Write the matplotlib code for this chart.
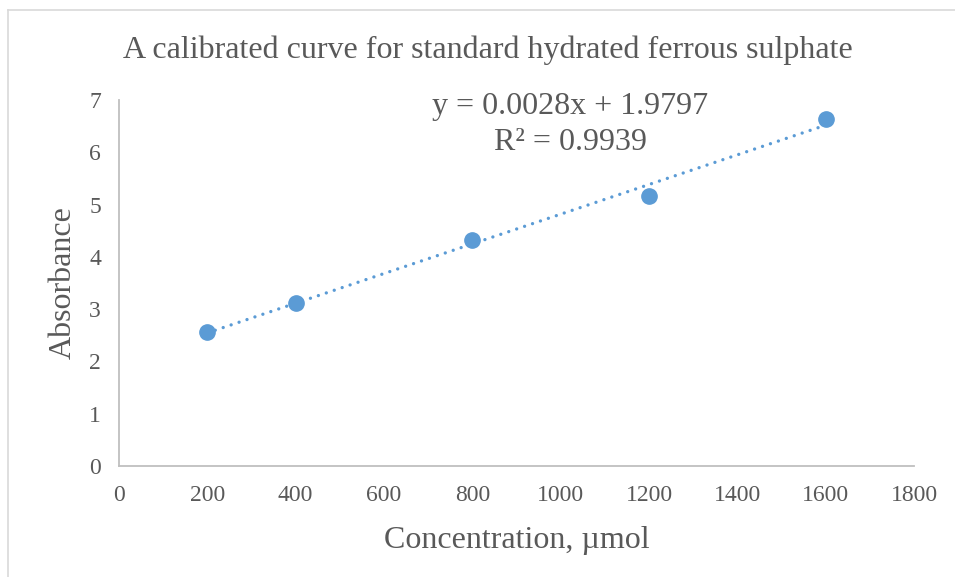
import matplotlib.pyplot as plt
import numpy as np
from matplotlib.lines import Line2D

conc = [200, 400, 800, 1200, 1600]
absorb = [2.56, 3.12, 4.32, 5.17, 6.64]
x_ticks = [0, 200, 400, 600, 800, 1000, 1200, 1400, 1600, 1800]
y_ticks = [0, 1, 2, 3, 4, 5, 6, 7]

blue = '#5B9BD5'
grey_text = '#595959'

plt.rcParams['font.family'] = ['Liberation Serif', 'DejaVu Serif']

fig = plt.figure(figsize=(9.55, 5.77), dpi=100)
ax = fig.add_axes([0.1246, 0.1924, 0.8325, 0.6343])

# trendline (least squares, like Excel)
k, b = np.polyfit(conc, absorb, 1)
xs = np.array([conc[0], conc[-1]])
ax.plot(xs, k * xs + b, linestyle=(0, (0.01, 2.5)), color=blue, linewidth=2.4,
        dash_capstyle='round', zorder=2)
ax.plot(conc, absorb, 'o', color=blue, markersize=11, zorder=3)

ax.set_xlim(0, 1800)
ax.set_ylim(0, 7)
ax.set_xticks(x_ticks)
ax.set_yticks(y_ticks)
ax.tick_params(length=0, labelsize=17, labelcolor=grey_text)
ax.tick_params(axis='x', pad=14)
ax.tick_params(axis='y', pad=13)
for s in ['top', 'right']:
    ax.spines[s].set_visible(False)
for s in ['left', 'bottom']:
    ax.spines[s].set_color('#BFBFBF')
    ax.spines[s].set_linewidth(1.3)

ax.set_xlabel('Concentration, µmol', fontsize=23, color=grey_text, labelpad=14)
ax.set_ylabel('Absorbance', fontsize=23, color=grey_text, labelpad=8)
fig.text(488 / 955, 1 - 50 / 577,
         'A calibrated curve for standard hydrated ferrous sulphate',
         fontsize=23, color=grey_text, ha='center', va='center')

ax.text(1022, 6.87, 'y = 0.0028x + 1.9797', fontsize=23, color=grey_text,
        ha='center', va='center')
ax.text(1022, 6.18, 'R² = 0.9939', fontsize=23, color=grey_text,
        ha='center', va='center')

# outer chart frame (only top and left visible in the crop)
fig.add_artist(Line2D([8 / 955, 8 / 955], [0, 1 - 10 / 577],
                      transform=fig.transFigure, color='#D9D9D9', linewidth=1.2))
fig.add_artist(Line2D([8 / 955, 1], [1 - 10 / 577, 1 - 10 / 577],
                      transform=fig.transFigure, color='#D9D9D9', linewidth=1.2))

fig.savefig('out.png', dpi=100)
